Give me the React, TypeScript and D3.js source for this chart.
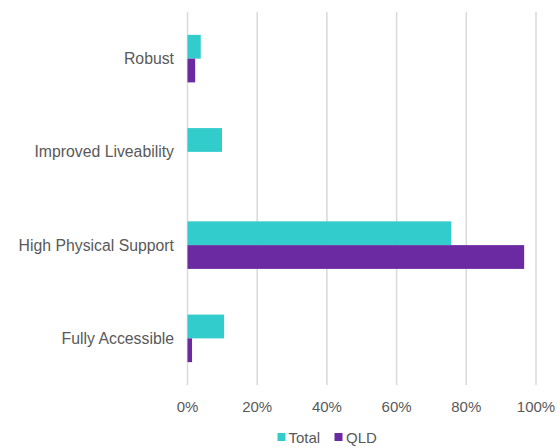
import React from "react";
import * as d3 from "d3";

const categories = ["Robust", "Improved Liveability", "High Physical Support", "Fully Accessible"];
const totalValues = [3.8, 9.9, 75.7, 10.5];
const qldValues = [2.2, 0, 96.6, 1.3];
const seriesNames = ["Total", "QLD"];
const xTicks = [0, 20, 40, 60, 80, 100];

const colors = ["#33CCCC", "#6B2AA2"];

export default function App() {
  const width = 557;
  const height = 448;
  const left = 187.5;
  const right = 536;
  const top = 12;
  const bottom = 385;

  const x = d3.scaleLinear().domain([0, 100]).range([left, right]);
  const y = d3.scaleBand<string>().domain(categories).range([top, bottom]).paddingInner(0.49).paddingOuter(0.245);
  const sub = d3.scaleBand<string>().domain(seriesNames).range([0, y.bandwidth()]);
  const series = [totalValues, qldValues];
  const font = "Liberation Sans, Arial, sans-serif";

  return (
    <svg width={width} height={height} style={{ position: "absolute", left: 0, top: 0 }}>
      <rect width={width} height={height} fill="#fff" />
      {xTicks.map((t) => (
        <line key={t} x1={x(t)} x2={x(t)} y1={top} y2={bottom} stroke="#d9d9d9" strokeWidth={1.5} />
      ))}
      {categories.map((c, i) =>
        series.map((vals, s) => (
          <rect
            key={c + s}
            x={x(0)}
            y={(y(c) as number) + (sub(seriesNames[s]) as number)}
            width={x(vals[i]) - x(0)}
            height={sub.bandwidth()}
            fill={colors[s]}
          />
        ))
      )}
      {categories.map((c) => (
        <text
          key={c}
          x={174}
          y={(y(c) as number) + y.bandwidth() / 2}
          textAnchor="end"
          dominantBaseline="central"
          fontFamily={font}
          fontSize={15.8}
          fill="#595959"
        >
          {c}
        </text>
      ))}
      {xTicks.map((t) => (
        <text
          key={t}
          x={x(t)}
          y={406}
          textAnchor="middle"
          dominantBaseline="central"
          fontFamily={font}
          fontSize={15}
          fill="#595959"
        >
          {t}%
        </text>
      ))}
      <g fontFamily={font} fontSize={15} fill="#595959">
        <rect x={277.5} y={433} width={8} height={8} fill={colors[0]} />
        <text x={288.5} y={437} dominantBaseline="central">{seriesNames[0]}</text>
        <rect x={334.5} y={433} width={8} height={8} fill={colors[1]} />
        <text x={346} y={437} dominantBaseline="central">{seriesNames[1]}</text>
      </g>
    </svg>
  );
}
